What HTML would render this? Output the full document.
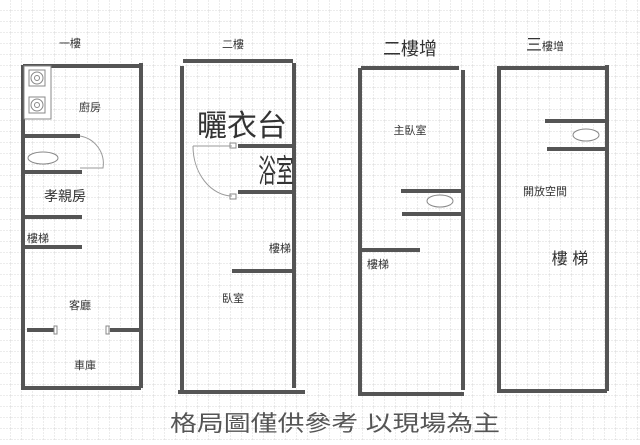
<!DOCTYPE html>
<html><head><meta charset="utf-8"><style>
body{margin:0;background:#fff}
svg text{font-family:"Liberation Sans","Noto Sans CJK TC",sans-serif;fill:#333}
</style></head><body>
<svg width="640" height="440" xmlns="http://www.w3.org/2000/svg">
<defs><pattern id="g" width="11" height="11" patternUnits="userSpaceOnUse">
<path d="M11 0V11M0 11H11" stroke="#d8d8d8" stroke-width="1" stroke-dasharray="2,1" fill="none"/></pattern></defs>
<rect width="640" height="440" fill="url(#g)"/>
<g stroke="#555" stroke-width="4" fill="none">
<path d="M23 65V388H141M23 66H139M141 63V388"/>
<path d="M22 136H80M24 172H82M24 217H82M24 247H82M27 330H55M110 330H140"/>
<path d="M183 61H293M182 66V390M294 63V388M178 392H305"/>
<path d="M238 146H292M238 192H292M232 271H294"/>
<path d="M361 68H459M360 68V394H464M463 70V390"/>
<path d="M401 191H463M402 214H463M360 250H420"/>
<path d="M497 68H607M607 65V391M499 68V391H607"/>
<path d="M545 121H607M547 149H607"/>
</g>
<g stroke="#888" stroke-width="1" fill="#fff">
<rect x="24" y="66" width="27" height="53"/>
<rect x="29" y="70" width="16" height="16"/><circle cx="37" cy="78" r="6"/><circle cx="37" cy="78" r="2.5"/>
<rect x="29" y="97" width="16" height="16"/><circle cx="37" cy="105" r="6"/><circle cx="37" cy="105" r="2.5"/>
<ellipse cx="43" cy="158" rx="15" ry="6"/>
<rect x="54" y="326" width="3" height="8"/><rect x="106" y="326" width="3" height="8"/>
<rect x="230" y="143" width="6" height="5"/><rect x="230" y="194" width="6" height="5"/>
<ellipse cx="440" cy="201" rx="13" ry="6"/>
<ellipse cx="586" cy="135" rx="13" ry="6"/>
</g>
<g stroke="#999" stroke-width="1" fill="none">
<path d="M80 136A28 28 0 0 1 103 168L80 168"/>
<path d="M193 146H232M193 146A40 50 0 0 0 232 196"/>
</g>
<g font-size="11" text-anchor="middle">
<text x="70" y="47">一樓</text>
<text x="90" y="111">廚房</text>
<text x="65" y="201" font-size="14">孝親房</text>
<text x="38" y="242">樓梯</text>
<text x="80" y="309">客廳</text>
<text x="85" y="369">車庫</text>
<text x="233" y="48">二樓</text>
<text x="242" y="136" font-size="30">曬衣台</text>
<text x="276" y="182" font-size="32" transform="translate(276 0) scale(0.55 1) translate(-276 0)">浴室</text>
<text x="280" y="252">樓梯</text>
<text x="233" y="302">臥室</text>
<text x="410" y="55" font-size="18">二樓增</text>
<text x="410" y="134">主臥室</text>
<text x="378" y="268">樓梯</text>
<text x="545" y="50" font-size="16">三<tspan font-size="11">樓增</tspan></text>
<text x="545" y="195">開放空間</text>
<text x="570" y="264" font-size="16">樓 梯</text>
<text x="335" y="431" font-size="22" textLength="330" lengthAdjust="spacingAndGlyphs" style="fill:#555">格局圖僅供參考 以現場為主</text>
</g>
</svg>
</body></html>
